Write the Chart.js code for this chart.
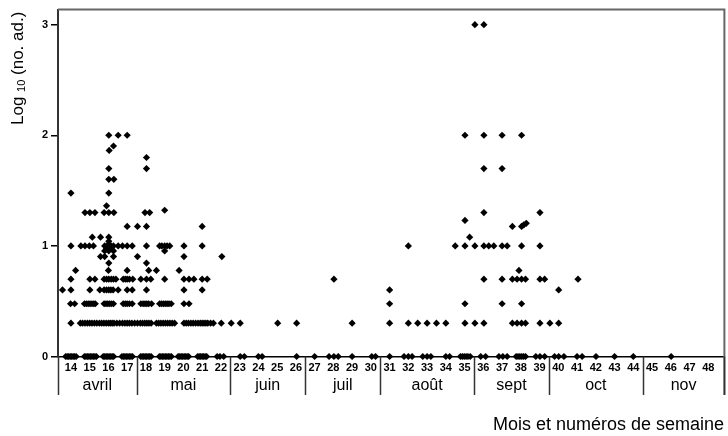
<!DOCTYPE html>
<html>
<head>
<meta charset="utf-8">
<script src="https://cdn.jsdelivr.net/npm/chart.js@4"></script>
<style>
  html, body { margin: 0; padding: 0; background: #fff; }
  #c { display: block; }
</style>
</head>
<body>
<canvas id="c" width="728" height="436"></canvas>
<script>
// semaines et mois
const weeks = [14,15,16,17,18,19,20,21,22,23,24,25,26,27,28,29,30,31,32,33,34,35,36,37,38,39,40,41,42,43,44,45,46,47,48];
const months = ['avril','mai','juin','juil','août','sept','oct','nov'];
const monthEdges = [13.31, 17.5, 22.5, 26.5, 30.5, 35.5, 39.5, 44.5, 48.86];
const yTicks = [0, 1, 2, 3];

// points [semaine, log10(no. ad.)]
const avril = [
  [13.72,0],[13.8,0],[13.88,0],[13.96,0],[14.04,0],[14.12,0],[14.2,0],[14.28,0],
  [14.0,0.301],[13.98,0.477],[14.2,0.477],[13.55,0.602],[14.0,0.602],[14.0,0.699],
  [14.25,0.778],[14.0,1],[14.0,1.477],
  [14.72,0],[14.8,0],[14.88,0],[14.96,0],[15.04,0],[15.12,0],[15.2,0],[15.28,0],[15.36,0],
  [14.5,0.301],[14.62,0.301],[14.75,0.301],[14.88,0.301],[15.0,0.301],[15.12,0.301],[15.25,0.301],[15.38,0.301],
  [14.72,0.477],[14.82,0.477],[14.92,0.477],[15.02,0.477],[15.12,0.477],[15.22,0.477],[15.3,0.477],
  [15.01,0.602],[15.01,0.699],[15.28,0.699],
  [14.53,1],[14.75,1],[14.98,1],[15.2,1],[15.14,1.079],[15.58,1.079],
  [14.75,1.301],[15.01,1.301],[15.28,1.301],
  [15.72,0],[15.8,0],[15.88,0],[15.96,0],[16.04,0],[16.12,0],[16.2,0],[16.28,0],
  [15.52,0.301],[15.64,0.301],[15.76,0.301],[15.88,0.301],[16.0,0.301],[16.1,0.301],[16.2,0.301],[16.3,0.301],[16.45,0.301],
  [15.77,0.477],[15.87,0.477],[15.97,0.477],[16.07,0.477],[16.17,0.477],[16.27,0.477],
  [15.54,0.602],[15.77,0.602],[15.9,0.602],[16.02,0.602],[16.13,0.602],[16.25,0.602],[16.52,0.602],
  [15.77,0.699],[15.9,0.699],[16.02,0.699],[16.15,0.699],[16.27,0.699],[16.4,0.699],
  [16.0,0.778],[16.02,0.845],[15.58,0.903],[15.8,0.903],[16.27,0.903],
  [15.8,0.954],[16.02,0.954],[16.27,0.954],[15.9,0.976],[16.14,0.976],
  [15.8,1],[15.92,1],[16.02,1],[16.14,1],[16.27,1],[16.52,1],[16.75,1],
  [16.02,1.041],[16.02,1.079],[15.77,1.301],[16.02,1.301],[16.29,1.301],[15.9,1.362],
  [16.02,1.477],[16.02,1.602],[16.29,1.602],[16.02,1.699],[16.04,1.863],[16.27,1.903],
  [16.02,2],[16.52,2],
  [16.72,0],[16.8,0],[16.88,0],[16.96,0],[17.04,0],[17.12,0],[17.2,0],[17.28,0],
  [16.6,0.301],[16.75,0.301],[16.88,0.301],[17.0,0.301],[17.12,0.301],[17.25,0.301],[17.4,0.301],
  [16.79,0.477],[16.9,0.477],[17.0,0.477],[17.12,0.477],[17.27,0.477],
  [17.0,0.602],[17.27,0.602],
  [16.79,0.699],[16.9,0.699],[17.0,0.699],[17.12,0.699],[17.3,0.699],
  [17.0,0.778],[17.0,1],[17.27,1],[17.0,1.176],[17.0,2]
];
const mai = [
  [17.72,0],[17.8,0],[17.88,0],[17.96,0],[18.04,0],[18.12,0],[18.2,0],[18.28,0],
  [17.55,0.301],[17.7,0.301],[17.82,0.301],[17.94,0.301],[18.05,0.301],[18.16,0.301],[18.28,0.301],
  [17.73,0.477],[17.85,0.477],[17.95,0.477],[18.05,0.477],[18.15,0.477],[18.3,0.477],
  [18.03,0.602],[17.73,0.699],[18.03,0.699],[18.26,0.699],[18.15,0.778],[18.56,0.778],
  [18.03,0.845],[17.55,0.903],[18.03,1],[17.55,1.176],[18.03,1.176],
  [17.95,1.301],[18.2,1.301],[18.03,1.699],[18.03,1.799],
  [18.72,0],[18.8,0],[18.88,0],[18.96,0],[19.04,0],[19.12,0],[19.2,0],[19.28,0],[19.36,0],
  [18.56,0.301],[18.68,0.301],[18.8,0.301],[18.92,0.301],[19.04,0.301],[19.16,0.301],[19.28,0.301],[19.4,0.301],[19.53,0.301],
  [18.73,0.477],[18.83,0.477],[18.93,0.477],[19.03,0.477],[19.13,0.477],[19.23,0.477],[19.35,0.477],
  [19.0,0.699],[19.77,0.778],[19.0,0.954],
  [18.73,1],[18.85,1],[19.0,1],[19.13,1],[19.27,1],[19.0,1.322],
  [19.72,0],[19.8,0],[19.88,0],[19.96,0],[20.04,0],[20.12,0],[20.2,0],[20.28,0],
  [20.03,0.301],[20.15,0.301],[20.27,0.301],[20.4,0.301],[20.52,0.301],[20.65,0.301],[20.78,0.301],
  [20.03,0.477],[20.3,0.477],[20.03,0.602],[20.03,0.699],[20.3,0.699],[20.56,0.699],
  [20.03,0.903],[20.03,1],
  [20.76,0],[20.84,0],[20.92,0],[21.0,0],[21.08,0],[21.16,0],[21.24,0],
  [20.9,0.301],[21.0,0.301],[21.1,0.301],[21.2,0.301],[21.3,0.301],[21.45,0.301],[21.6,0.301],
  [21.0,0.602],[21.0,0.699],[21.27,0.699],[21.0,1],[21.0,1.176],
  [21.8,0],[21.95,0],[22.15,0],[22.02,0.301],[22.55,0.301],[22.05,0.903]
];
const juin = [[23.03,0],[23.25,0],[24.0,0],[24.2,0],[26.04,0],[23.03,0.301],[25.03,0.301],[26.04,0.301]];
const juil = [[27.0,0],[27.77,0],[28.03,0],[28.26,0],[29.0,0],[30.05,0],[30.25,0],[29.0,0.301],[28.03,0.699]];
const aout = [
  [31.0,0],[31.77,0],[32.0,0],[32.2,0],[32.77,0],[33.0,0],[33.2,0],[34.0,0],[34.2,0],
  [34.78,0],[34.88,0],[34.98,0],[35.08,0],[35.18,0],[35.3,0],
  [31.0,0.301],[32.0,0.301],[32.5,0.301],[33.0,0.301],[33.5,0.301],[34.0,0.301],[35.02,0.301],
  [31.0,0.477],[35.02,0.477],[31.0,0.602],
  [32.0,1],[34.5,1],[35.02,1],[35.27,1.079],[35.02,1.23],[35.02,2]
];
const sept = [
  [35.86,0],[36.12,0],[36.83,0],[37.04,0],[37.27,0],[37.75,0],[37.85,0],[37.95,0],[38.05,0],[38.15,0],[38.25,0],
  [38.8,0],[39.02,0],[39.27,0],
  [35.55,0.301],[36.03,0.301],[37.55,0.301],[37.8,0.301],[38.04,0.301],[38.25,0.301],[39.02,0.301],[39.55,0.301],
  [37.0,0.477],[38.04,0.477],
  [36.03,0.699],[37.0,0.699],[37.55,0.699],[37.8,0.699],[38.04,0.699],[38.25,0.699],[39.02,0.699],[39.27,0.699],
  [37.9,0.778],
  [35.55,1],[36.03,1],[36.29,1],[36.56,1],[37.0,1],[37.27,1],[38.04,1],[39.02,1],
  [37.55,1.176],[38.04,1.176],[38.16,1.19],[38.29,1.204],
  [36.03,1.301],[39.02,1.301],[36.03,1.699],[37.0,1.699],
  [36.03,2],[37.0,2],[38.04,2],[35.55,3],[36.03,3]
];
const oct = [[39.8,0],[40.02,0],[40.3,0],[41.0,0],[41.27,0],[42.01,0],[43.0,0],[44.0,0],[40.02,0.301],[40.02,0.602],[41.05,0.699]];
const nov = [[46.02,0]];

const FONT = "Arial, 'Liberation Sans', sans-serif";
const allPoints = [].concat(avril, mai, juin, juil, aout, sept, oct, nov).map(p => ({ x: p[0], y: p[1] }));
const LOW = 395; // bas des séparateurs

const decor = {
  id: 'decor',
  afterDraw(chart) {
    const { ctx, chartArea: a, scales: { x } } = chart;
    ctx.save();
    // cadre haut et droit
    ctx.strokeStyle = '#666';
    ctx.lineWidth = 2;
    ctx.beginPath();
    ctx.moveTo(a.left, a.top);
    ctx.lineTo(a.right, a.top);
    ctx.lineTo(a.right, LOW);
    ctx.stroke();
    // séparateurs des mois
    ctx.strokeStyle = '#333';
    ctx.lineWidth = 1.5;
    monthEdges.forEach(w => {
      const px = Math.round(x.getPixelForValue(w)) + 0.5;
      ctx.beginPath();
      ctx.moveTo(px, a.bottom);
      ctx.lineTo(px, LOW);
      ctx.stroke();
    });
    // noms des mois
    ctx.fillStyle = '#000';
    ctx.font = '16px ' + FONT;
    ctx.textAlign = 'center';
    ctx.textBaseline = 'middle';
    months.forEach((m, i) => {
      const cx = (x.getPixelForValue(monthEdges[i]) + x.getPixelForValue(monthEdges[i + 1])) / 2;
      ctx.fillText(m, cx, 386);
    });
    // titre de l'axe x
    ctx.font = '18px ' + FONT;
    ctx.textAlign = 'right';
    ctx.fillText('Mois et numéros de semaine', 724, 425);
    // titre de l'axe y avec indice
    ctx.translate(18, 125);
    ctx.rotate(-Math.PI / 2);
    ctx.textAlign = 'left';
    ctx.font = '17px ' + FONT;
    let pos = 0;
    ctx.fillText('Log ', pos, 0);
    pos += ctx.measureText('Log ').width;
    ctx.font = '11px ' + FONT;
    ctx.fillText('10', pos, 4);
    pos += ctx.measureText('10').width;
    ctx.font = '17px ' + FONT;
    ctx.fillText(' (no. ad.)', pos, 0);
    ctx.restore();
  }
};

new Chart(document.getElementById('c'), {
  type: 'scatter',
  data: {
    datasets: [{
      data: allPoints,
      pointStyle: 'rectRot',
      pointRadius: 3.6,
      pointHoverRadius: 3.6,
      backgroundColor: '#000',
      borderColor: '#000',
      borderWidth: 0,
      clip: false
    }]
  },
  options: {
    responsive: false,
    animation: false,
    events: [],
    layout: { padding: { left: 0, top: 8, right: 1.5, bottom: 0 } },
    plugins: { legend: { display: false }, tooltip: { enabled: false } },
    scales: {
      x: {
        type: 'linear',
        min: monthEdges[0],
        max: monthEdges[monthEdges.length - 1],
        afterBuildTicks: s => { s.ticks = weeks.map(v => ({ value: v })); },
        afterFit: s => { s.height = 79.5; },
        grid: { display: false, drawTicks: false },
        border: { display: true, color: '#000', width: 1.5 },
        ticks: {
          autoSkip: false, maxRotation: 0, padding: 5,
          color: '#000', font: { family: FONT, size: 11, weight: 'bold' }
        }
      },
      y: {
        min: 0,
        max: 3.136,
        afterBuildTicks: s => { s.ticks = yTicks.map(v => ({ value: v })); },
        afterFit: s => { s.width = 58; },
        grid: { display: true, drawOnChartArea: false, drawTicks: true, tickLength: 7, color: '#000', lineWidth: 1.5 },
        border: { display: true, color: '#333', width: 2 },
        ticks: { padding: 3, color: '#000', font: { family: FONT, size: 11, weight: 'bold' } }
      }
    }
  },
  plugins: [decor]
});
</script>
</body>
</html>
